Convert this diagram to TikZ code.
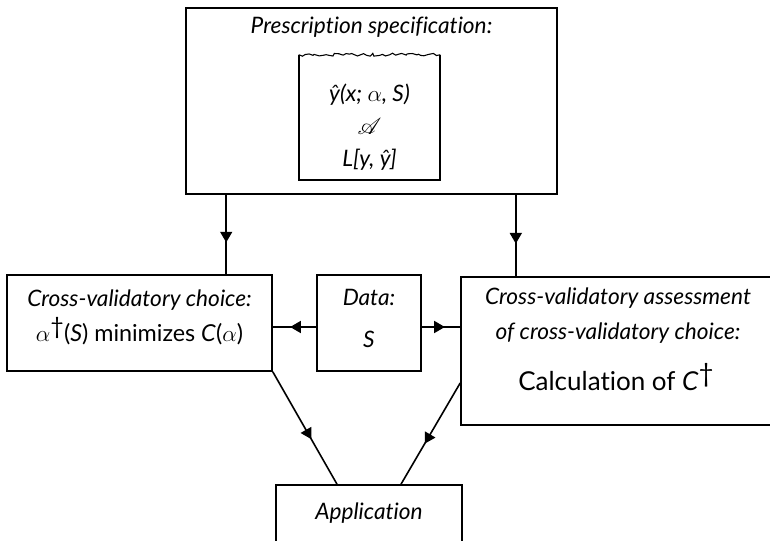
\documentclass[tikz,border=0pt]{standalone}
\usepackage{fontspec}
\usepackage{mathrsfs}
\setmainfont[Ligatures={NoCommon}]{Lato}
\usetikzlibrary{arrows.meta,calc,decorations.markings,decorations.pathmorphing}

\newcommand{\updag}{\raisebox{0.55ex}{\dag}}

\tikzset{
  box/.style={draw,line width=1.2pt,minimum width=#1},
  flow/.style={line width=1.2pt,decoration={markings,
      mark=at position 0.6 with {\arrow{Triangle[length=8pt,width=9pt]}}},
    postaction=decorate},
  lbl/.style={font=\fontsize{17}{20}\selectfont\itshape},
  rom/.style={font=\fontsize{17.5}{20}\selectfont}
}

\begin{document}
\begin{tikzpicture}[x=0.75pt,y=-0.75pt]
\useasboundingbox (0,0) rectangle (770,541);
% prescription block
\node[box=278.25pt,minimum height=139.5pt] (top) at (371.5,101) {};
\node[lbl] (toptitle) at (371.5,27) {Prescription specification:};
\node[minimum width=105.75pt,minimum height=93.75pt,inner sep=0pt] (spec) at (369.5,117.5) {};
\draw[line width=1.2pt] (spec.north west) -- (spec.south west) -- (spec.south east) -- (spec.north east);
\draw[line width=0.8pt,decorate,decoration={random steps,segment length=2.5pt,amplitude=1.2pt}]
  (spec.north west) -- (spec.north east);
\node[lbl] (yfun) at (369.5,95) {ŷ(x; $\alpha$, S)};
\node[lbl] (afam) at (369.5,126) {\LARGE$\mathscr{A}$};
\node[lbl] (loss) at (369.5,160) {L[y, ŷ]};
% middle row
\node[box=198.75pt,minimum height=72pt] (cvc) at (139.5,323) {};
\node[lbl] (cvctitle) at (139.5,300) {Cross-validatory choice:};
\node[rom] (cvcbody) at (139.5,331) {$\alpha$\updag(\textit{S}) minimizes \textit{C}($\alpha$)};
\node[box=78pt,minimum height=72pt] (data) at (369,323) {};
\node[lbl] (datatitle) at (369,297) {Data:};
\node[lbl] (dataS) at (369,339) {S};
\node[box=246.75pt,minimum height=111pt] (assess) at (625.5,351) {};
\node[lbl] (asstitle) at (618,298) {Cross-validatory assessment};
\node[lbl] (asssub) at (618,333) {of cross-validatory choice:};
\node[rom,font=\fontsize{19.5}{22}\selectfont] (assbody) at (616,377) {Calculation of \textit{C}\updag};
% application
\node[box=139.5pt,minimum height=63.75pt] (app) at (369,527.5) {};
\node[lbl] (apptitle) at (369,513) {Application};
% connectors
\coordinate (t1) at ($(top.south west)+(41,0)$);
\coordinate (t2) at ($(top.south east)+(-42,0)$);
\draw[flow] (t1) -- (t1 |- cvc.north);
\draw[flow] (t2) -- (t2 |- assess.north);
\coordinate (d1) at ($(data.west)+(0,4)$);
\coordinate (d2) at ($(data.east)+(0,4)$);
\draw[flow] (d1) -- (d1 -| cvc.east);
\draw[flow] (d2) -- (d2 -| assess.west);
\draw[flow] (cvc.south east) -- ($(app.north)+(-32,0)$);
\draw[flow] ($(assess.west)+(0,32)$) -- ($(app.north)+(32,0)$);
\end{tikzpicture}
\end{document}
